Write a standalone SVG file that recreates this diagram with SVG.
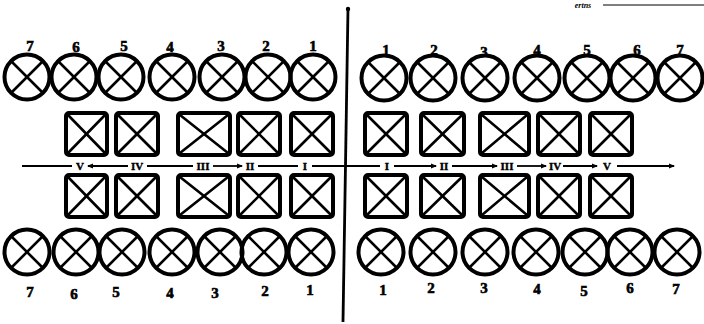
<svg xmlns="http://www.w3.org/2000/svg" xmlns:xlink="http://www.w3.org/1999/xlink" width="704" height="324" viewBox="0 0 704 324">
<style>
.c{fill:none;stroke:#000;stroke-width:4}
.x{stroke:#000;stroke-width:2.6;stroke-linecap:round}
.s{fill:none;stroke:#000;stroke-width:4;stroke-linejoin:round}
.n{font-family:"Liberation Serif",serif;font-weight:bold;font-size:15px;text-anchor:middle;fill:#000;stroke:#000;stroke-width:0.6}
.r{font-family:"Liberation Serif",serif;font-weight:bold;font-size:11px;text-anchor:middle;fill:#000;stroke:#000;stroke-width:0.4}
.l{stroke:#000;stroke-width:1.8;fill:none}
</style>
<defs>
<g id="lamp">
<circle class="c" cx="0" cy="0" r="22.5"/>
<line class="x" x1="-16" y1="-16" x2="16" y2="16"/>
<line class="x" x1="16" y1="-16" x2="-16" y2="16"/>
</g>
<marker id="ar" markerWidth="6" markerHeight="6" refX="5" refY="3" orient="auto" markerUnits="userSpaceOnUse">
<path d="M0,0.5 L6,3 L0,5.5 z" fill="#000"/>
</marker>
</defs>
<rect width="704" height="324" fill="#fff"/>

<g id="connectors">
<line class="l" x1="348" y1="8" x2="343" y2="322" style="stroke-width:2.8"/>
<circle cx="348" cy="9" r="2.2" fill="#000"/>
<line class="l" x1="22" y1="166" x2="72" y2="166"/>
<line class="l" x1="128" y1="166" x2="88" y2="166" marker-end="url(#ar)"/>
<line class="l" x1="147" y1="166" x2="193" y2="166"/>
<line class="l" x1="213" y1="166" x2="242" y2="166" marker-end="url(#ar)"/>
<line class="l" x1="258" y1="166" x2="298" y2="166"/>
<line class="l" x1="312" y1="166" x2="380" y2="166"/>
<line class="l" x1="394" y1="166" x2="436" y2="166" marker-end="url(#ar)"/>
<line class="l" x1="452" y1="166" x2="497" y2="166" marker-end="url(#ar)"/>
<line class="l" x1="517" y1="166" x2="546" y2="166" marker-end="url(#ar)"/>
<line class="l" x1="563" y1="166" x2="597" y2="166" marker-end="url(#ar)"/>
<line class="l" x1="617" y1="166" x2="674" y2="166" marker-end="url(#ar)"/>
<line class="l" x1="603" y1="5" x2="704" y2="5" style="stroke-width:1.2"/>
</g>

<text x="583" y="8" style="font-family:'Liberation Serif',serif;font-weight:bold;font-style:italic;font-size:8px;text-anchor:middle">ertns</text>

<g id="line-labels">
<text class="r" x="80" y="170">V</text>
<text class="r" x="137" y="170">IV</text>
<text class="r" x="203" y="170">III</text>
<text class="r" x="250" y="170">II</text>
<text class="r" x="305" y="170">I</text>
<text class="r" x="387" y="170">I</text>
<text class="r" x="444" y="170">II</text>
<text class="r" x="507" y="170">III</text>
<text class="r" x="555" y="170">IV</text>
<text class="r" x="607" y="170">V</text>
</g>

<g id="top-left-lamps">
<g id="tl7"><use xlink:href="#lamp" x="27" y="77"/><text class="n" x="30" y="51">7</text></g>
<g id="tl6"><use xlink:href="#lamp" x="74" y="77"/><text class="n" x="76" y="52">6</text></g>
<g id="tl5"><use xlink:href="#lamp" x="121" y="77"/><text class="n" x="124" y="51">5</text></g>
<g id="tl4"><use xlink:href="#lamp" x="172" y="77"/><text class="n" x="170" y="52">4</text></g>
<g id="tl3"><use xlink:href="#lamp" x="222" y="77"/><text class="n" x="221" y="51">3</text></g>
<g id="tl2"><use xlink:href="#lamp" x="268" y="77"/><text class="n" x="266" y="51">2</text></g>
<g id="tl1"><use xlink:href="#lamp" x="313" y="77"/><text class="n" x="313" y="51">1</text></g>
</g>

<g id="top-right-lamps">
<g id="tr1"><use xlink:href="#lamp" x="384" y="78"/><text class="n" x="386" y="55">1</text></g>
<g id="tr2"><use xlink:href="#lamp" x="433" y="78"/><text class="n" x="434" y="55">2</text></g>
<g id="tr3"><use xlink:href="#lamp" x="485" y="78"/><text class="n" x="484" y="57">3</text></g>
<g id="tr4"><use xlink:href="#lamp" x="537" y="78"/><text class="n" x="537" y="55">4</text></g>
<g id="tr5"><use xlink:href="#lamp" x="587" y="78"/><text class="n" x="587" y="55">5</text></g>
<g id="tr6"><use xlink:href="#lamp" x="633" y="78"/><text class="n" x="637" y="55">6</text></g>
<g id="tr7"><use xlink:href="#lamp" x="680" y="78"/><text class="n" x="680" y="55">7</text></g>
</g>

<g id="top-left-squares">
<g id="sq-tl-V"><rect class="s" x="66" y="113" width="41" height="42" rx="3"/><line class="x" x1="68" y1="115" x2="105" y2="153"/><line class="x" x1="105" y1="115" x2="68" y2="153"/></g>
<g id="sq-tl-IV"><rect class="s" x="116" y="113" width="42" height="42" rx="3"/><line class="x" x1="118" y1="115" x2="156" y2="153"/><line class="x" x1="156" y1="115" x2="118" y2="153"/></g>
<g id="sq-tl-III"><rect class="s" x="178" y="113" width="52" height="42" rx="3"/><line class="x" x1="180" y1="115" x2="228" y2="153"/><line class="x" x1="228" y1="115" x2="180" y2="153"/></g>
<g id="sq-tl-II"><rect class="s" x="238" y="113" width="42" height="42" rx="3"/><line class="x" x1="240" y1="115" x2="278" y2="153"/><line class="x" x1="278" y1="115" x2="240" y2="153"/></g>
<g id="sq-tl-I"><rect class="s" x="291" y="113" width="42" height="42" rx="3"/><line class="x" x1="293" y1="115" x2="331" y2="153"/><line class="x" x1="331" y1="115" x2="293" y2="153"/></g>
</g>

<g id="top-right-squares">
<g id="sq-tr-I"><rect class="s" x="365" y="113" width="42" height="42" rx="3"/><line class="x" x1="367" y1="115" x2="405" y2="153"/><line class="x" x1="405" y1="115" x2="367" y2="153"/></g>
<g id="sq-tr-II"><rect class="s" x="421" y="113" width="43" height="42" rx="3"/><line class="x" x1="423" y1="115" x2="462" y2="153"/><line class="x" x1="462" y1="115" x2="423" y2="153"/></g>
<g id="sq-tr-III"><rect class="s" x="480" y="113" width="49" height="42" rx="3"/><line class="x" x1="482" y1="115" x2="527" y2="153"/><line class="x" x1="527" y1="115" x2="482" y2="153"/></g>
<g id="sq-tr-IV"><rect class="s" x="538" y="113" width="42" height="42" rx="3"/><line class="x" x1="540" y1="115" x2="578" y2="153"/><line class="x" x1="578" y1="115" x2="540" y2="153"/></g>
<g id="sq-tr-V"><rect class="s" x="590" y="113" width="42" height="42" rx="3"/><line class="x" x1="592" y1="115" x2="630" y2="153"/><line class="x" x1="630" y1="115" x2="592" y2="153"/></g>
</g>

<g id="bottom-left-squares">
<g id="sq-bl-V"><rect class="s" x="66" y="175" width="41" height="42" rx="3"/><line class="x" x1="68" y1="177" x2="105" y2="215"/><line class="x" x1="105" y1="177" x2="68" y2="215"/></g>
<g id="sq-bl-IV"><rect class="s" x="116" y="175" width="42" height="42" rx="3"/><line class="x" x1="118" y1="177" x2="156" y2="215"/><line class="x" x1="156" y1="177" x2="118" y2="215"/></g>
<g id="sq-bl-III"><rect class="s" x="178" y="175" width="52" height="42" rx="3"/><line class="x" x1="180" y1="177" x2="228" y2="215"/><line class="x" x1="228" y1="177" x2="180" y2="215"/></g>
<g id="sq-bl-II"><rect class="s" x="238" y="175" width="42" height="42" rx="3"/><line class="x" x1="240" y1="177" x2="278" y2="215"/><line class="x" x1="278" y1="177" x2="240" y2="215"/></g>
<g id="sq-bl-I"><rect class="s" x="291" y="175" width="42" height="42" rx="3"/><line class="x" x1="293" y1="177" x2="331" y2="215"/><line class="x" x1="331" y1="177" x2="293" y2="215"/></g>
</g>

<g id="bottom-right-squares">
<g id="sq-br-I"><rect class="s" x="365" y="175" width="42" height="42" rx="3"/><line class="x" x1="367" y1="177" x2="405" y2="215"/><line class="x" x1="405" y1="177" x2="367" y2="215"/></g>
<g id="sq-br-II"><rect class="s" x="421" y="175" width="43" height="42" rx="3"/><line class="x" x1="423" y1="177" x2="462" y2="215"/><line class="x" x1="462" y1="177" x2="423" y2="215"/></g>
<g id="sq-br-III"><rect class="s" x="480" y="175" width="49" height="42" rx="3"/><line class="x" x1="482" y1="177" x2="527" y2="215"/><line class="x" x1="527" y1="177" x2="482" y2="215"/></g>
<g id="sq-br-IV"><rect class="s" x="538" y="175" width="42" height="42" rx="3"/><line class="x" x1="540" y1="177" x2="578" y2="215"/><line class="x" x1="578" y1="177" x2="540" y2="215"/></g>
<g id="sq-br-V"><rect class="s" x="590" y="175" width="42" height="42" rx="3"/><line class="x" x1="592" y1="177" x2="630" y2="215"/><line class="x" x1="630" y1="177" x2="592" y2="215"/></g>
</g>

<g id="bottom-left-lamps">
<g id="bl7"><use xlink:href="#lamp" x="27" y="252"/><text class="n" x="30" y="297">7</text></g>
<g id="bl6"><use xlink:href="#lamp" x="76" y="252"/><text class="n" x="74" y="299">6</text></g>
<g id="bl5"><use xlink:href="#lamp" x="122" y="252"/><text class="n" x="116" y="297">5</text></g>
<g id="bl4"><use xlink:href="#lamp" x="172" y="252"/><text class="n" x="170" y="298">4</text></g>
<g id="bl3"><use xlink:href="#lamp" x="220" y="252"/><text class="n" x="215" y="298">3</text></g>
<g id="bl2"><use xlink:href="#lamp" x="264" y="252"/><text class="n" x="265" y="296">2</text></g>
<g id="bl1"><use xlink:href="#lamp" x="311" y="252"/><text class="n" x="310" y="295">1</text></g>
</g>

<g id="bottom-right-lamps">
<g id="br1"><use xlink:href="#lamp" x="381" y="252"/><text class="n" x="383" y="295">1</text></g>
<g id="br2"><use xlink:href="#lamp" x="433" y="252"/><text class="n" x="431" y="293">2</text></g>
<g id="br3"><use xlink:href="#lamp" x="485" y="252"/><text class="n" x="484" y="293">3</text></g>
<g id="br4"><use xlink:href="#lamp" x="536" y="252"/><text class="n" x="537" y="294">4</text></g>
<g id="br5"><use xlink:href="#lamp" x="585" y="252"/><text class="n" x="584" y="296">5</text></g>
<g id="br6"><use xlink:href="#lamp" x="630" y="252"/><text class="n" x="630" y="293">6</text></g>
<g id="br7"><use xlink:href="#lamp" x="677" y="252"/><text class="n" x="676" y="294">7</text></g>
</g>
</svg>
